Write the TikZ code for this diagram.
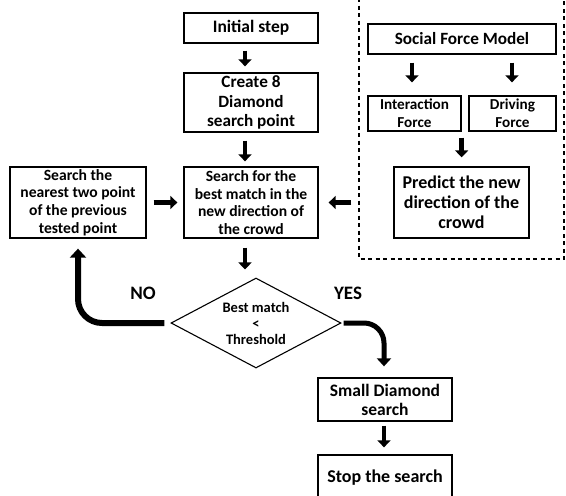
\documentclass[tikz,border=0pt]{standalone}
\usepackage{fontspec}
\setmainfont{Carlito}
\usetikzlibrary{shapes.geometric,arrows.meta}
\tikzset{
  box/.style={draw, line width=1.3pt, rectangle, align=center, inner sep=1pt, font=\bfseries\fontsize{15.6}{17.8}\selectfont},
  bigarrow/.style={line width=4.5pt, -{Triangle[width=13pt,length=7pt]}},
  curvearrow/.style={line width=6pt, -{Triangle[width=16pt,length=9pt]}},
  lbl/.style={font=\bfseries\fontsize{19}{21}\selectfont, inner sep=0pt}
}
\begin{document}
\begin{tikzpicture}[x=1pt,y=-1pt]
\useasboundingbox (0,0) rectangle (566,496);
\clip (0,0) rectangle (566,496);
% dashed frame
\coordinate (dtl) at (359,-2);
\coordinate (dbl) at (359,259);
\coordinate (dbr) at (564,259);
\coordinate (dtr) at (564,-2);
\draw[line width=1.2pt, dash pattern=on 4pt off 3.5pt] (dtl) -- (dbl) -- (dbr) -- (dtr);
% nodes
\node[box, minimum width=134pt, minimum height=30pt, font=\bfseries\fontsize{17.5}{20}\selectfont] (init) at (251,28) {Initial step};
\node[box, minimum width=134pt, minimum height=59pt, inner sep=0pt, font=\bfseries\fontsize{17.2}{19.5}\selectfont] (create) at (251,102.5) {Create 8\\Diamond\\search point};
\node[box, minimum width=134pt, minimum height=71pt] (search) at (251,202.5) {Search for the\\best match in the\\new direction of\\the crowd};
\node[box, minimum width=136pt, minimum height=71pt] (left) at (78,202.5) {Search the\\nearest two point\\of the previous\\tested point};
\node[box, minimum width=188pt, minimum height=30pt, font=\bfseries\fontsize{17.2}{20}\selectfont] (sfm) at (462,39) {Social Force Model};
\node[box, minimum width=93pt, minimum height=35pt, font=\bfseries\fontsize{15.2}{17.7}\selectfont] (inter) at (414.5,113.5) {Interaction\\Force};
\node[box, minimum width=87pt, minimum height=35pt, font=\bfseries\fontsize{15.2}{17.7}\selectfont] (drive) at (512.5,113.5) {Driving\\Force};
\node[box, minimum width=135pt, minimum height=71pt, font=\bfseries\fontsize{18}{20}\selectfont] (predict) at (461.5,202.5) {Predict the new\\direction of the\\crowd};
\node[draw, line width=1.1pt, diamond, aspect=1.89, inner sep=0pt, minimum width=170pt, minimum height=90pt, align=center, font=\bfseries\fontsize{14.5}{16}\selectfont] (dec) at (256,323) {Best match\\<\\Threshold};
\node[box, minimum width=134pt, minimum height=43pt, font=\bfseries\fontsize{17.5}{19}\selectfont] (small) at (385,399.5) {Small Diamond\\search};
\node[box, minimum width=134pt, minimum height=45pt, font=\bfseries\fontsize{18}{20}\selectfont] (stop) at (385,477.5) {Stop the search};
\node[lbl] (no) at (143,293) {NO};
\node[lbl] (yes) at (348,293) {YES};
% arrows
\draw[bigarrow, shorten <=7pt, shorten >=6pt] ([xshift=-6pt]init.south) -- ([xshift=-6pt]create.north);
\draw[bigarrow, shorten <=8pt, shorten >=5pt] ([xshift=-6pt]create.south) -- ([xshift=-6pt]search.north);
\draw[bigarrow, shorten <=9pt, shorten >=8pt] ([xshift=-6pt]search.south) -- ([xshift=-6pt]search.south |- dec.north);
\draw[bigarrow, shorten <=7pt, shorten >=6pt] (left.east) -- (search.west);
\draw[bigarrow, shorten <=42pt, shorten >=10pt] (predict.west) -- (search.east);
\draw[bigarrow, shorten <=8pt, shorten >=13pt] ([xshift=-2.5pt]inter.north |- sfm.south) -- ([xshift=-2.5pt]inter.north);
\draw[bigarrow, shorten <=8pt, shorten >=13pt] ([xshift=-0.5pt]drive.north |- sfm.south) -- ([xshift=-0.5pt]drive.north);
\draw[bigarrow, shorten <=6pt, shorten >=9pt] (inter.south east) -- (inter.south east |- predict.north);
\draw[bigarrow, shorten <=4pt, shorten >=7pt] ([xshift=-1pt]small.south) -- ([xshift=-1pt]stop.north);
\draw[curvearrow, rounded corners=24pt, shorten <=6pt, shorten >=10pt] (dec.west) -| (left.south);
\draw[line width=5pt, -{Triangle[width=14pt,length=8pt]}, rounded corners=20pt, shorten <=2pt, shorten >=11pt] (dec.east) -| ([xshift=-1pt]small.north);
\end{tikzpicture}
\end{document}
